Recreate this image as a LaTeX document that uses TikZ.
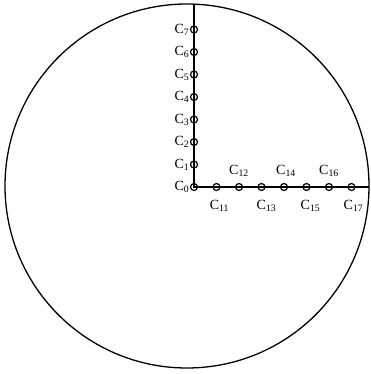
\documentclass[tikz,border=0pt]{standalone}
\usepackage{fontspec}
\setmainfont{Liberation Serif}
\usepackage{tikz}
\usetikzlibrary{calc}

\tikzset{
  tap/.style={circle,draw,line width=1.2pt,inner sep=0pt,minimum size=7pt},
  lab/.style={font=\fontsize{14}{16}\selectfont,inner sep=0pt}
}
\newcommand{\cname}[1]{C\textsubscript{#1}}

\begin{document}
\begin{tikzpicture}[x=1pt,y=-1pt]
\useasboundingbox (0,0) rectangle (371,374);
\def\r{182}
\def\d{22.5}
\coordinate (O) at (187,186);
\coordinate (top) at (194,4.1);
\coordinate (right) at (369,187);

\draw[line width=1.3pt] (O) circle (\r);

% taps up the vertical arm
\foreach \i in {0,...,7}
  \node[tap] (c\i) at (194,{187-\i*\d}) {};
% taps along the horizontal arm
\foreach \i in {1,...,7}
  \node[tap] (c1\i) at ({194+\i*\d},187) {};

\draw[line width=1.8pt] (top) -- (c0.center) -- (right);

\foreach \i in {0,...,7}
  \node[lab] (l\i) at ($(c\i)+(-12,0)$) {\cname{\i}};

\node[lab] (l11) at ($(c11)+(3,19)$) {\cname{11}};
\node[lab] (l12) at ($(c12)+(0,-16)$) {\cname{12}};
\node[lab] (l13) at ($(c13)+(5,19)$) {\cname{13}};
\node[lab] (l14) at ($(c14)+(2,-16)$) {\cname{14}};
\node[lab] (l15) at ($(c15)+(4,19)$) {\cname{15}};
\node[lab] (l16) at ($(c16)+(0,-16)$) {\cname{16}};
\node[lab] (l17) at ($(c17)+(2,19)$) {\cname{17}};

\end{tikzpicture}
\end{document}
